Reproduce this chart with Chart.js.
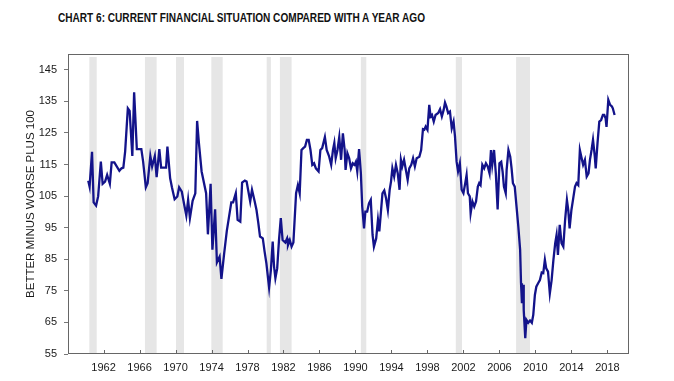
<!DOCTYPE html>
<html><head><meta charset="utf-8">
<script src="https://cdn.jsdelivr.net/npm/chart.js@4"></script>
<style>
html,body{margin:0;padding:0;background:#fff;}
#wrap{position:relative;width:674px;height:381px;overflow:hidden;}
#title{position:absolute;left:58px;top:10px;font-family:"Liberation Sans Narrow","Liberation Sans",Arial,sans-serif;font-weight:bold;font-size:13px;white-space:nowrap;transform-origin:0 0;color:#111;line-height:15px;}
canvas{position:absolute;left:0;top:0;}
</style></head><body>
<div id="wrap"><div id="title">CHART 6: CURRENT FINANCIAL SITUATION COMPARED WITH A YEAR AGO</div><canvas id="c" width="674" height="381"></canvas></div>
<script>
const dates = [
1960.3,1960.45,1960.72,1960.9,1961.17,1961.4,1961.7,1961.9,1962.17,1962.4,1962.7,1962.9,1963.2,1963.76,1964.0,1964.2,1964.4,1964.7,1964.9,1965.2,1965.4,1965.7,1966.2,1966.4,1966.7,1966.9,1967.2,1967.4,1967.7,1967.9,1968.2,1968.4,1968.95,1969.1,1969.4,1969.6,1969.9,1970.2,1970.4,1970.7,1970.95,1971.2,1971.4,1971.6,1971.9,1972.2,1972.4,1972.6,1972.9,1973.4,1973.6,1973.9,1974.1,1974.4,1974.6,1974.9,1975.1,1975.4,1975.7,1975.95,1976.2,1976.4,1976.7,1976.9,1977.2,1977.4,1977.7,1977.9,1978.3,1978.5,1978.8,1979.0,1979.2,
1979.39,1979.7,1979.9,1980.1,1980.4,1980.6,1980.8,1980.95,1981.1,1981.3,1981.5,1981.7,1981.9,1982.2,1982.4,1982.5,1982.7,1982.9,1983.1,1983.4,1983.6,1983.8,1984.0,1984.2,1984.4,1984.6,1984.8,1985.0,1985.2,1985.4,1985.6,1985.9,1986.1,1986.3,1986.6,1986.8,1987.06,1987.3,1987.5,1987.65,1987.8,1988.0,1988.2,1988.4,1988.6,1988.8,1988.9,1989.1,1989.3,1989.5,1989.7,1989.9,1990.05,1990.2,1990.4,1990.6,1990.75,1990.95,1991.1,1991.3,1991.5,1991.7,1991.9,1992.05,1992.3,1992.5,1992.65,1992.8,1993.0,1993.2,1993.4,1993.6,1993.8,1993.95,1994.1,1994.3,1994.5,1994.7,1994.9,1995.05,1995.2,1995.4,1995.6,1995.8,1995.98,1996.2,1996.4,1996.6,1996.8,1997.1,1997.3,1997.5,1997.65,1997.8,1998.0,1998.2,1998.35,1998.5,1998.7,1998.9,1999.2,1999.4,1999.6,1999.8,1999.95,2000.1,2000.3,
2000.5,2000.7,2000.9,2001.06,2001.24,2001.4,2001.6,2001.8,2002.0,2002.2,2002.35,2002.5,2002.7,2002.8,2003.0,2003.2,2003.4,2003.6,2003.75,2003.9,2004.1,2004.3,2004.5,2004.7,2004.9,2005.06,2005.2,2005.4,2005.6,2005.8,2006.0,2006.2,2006.35,2006.5,2006.7,2006.8,2007.0,2007.2,2007.35,2007.5,2007.7,2007.9,2008.1,2008.3,2008.4,2008.5,2008.65,2008.7,2008.87,2009.0,2009.2,2009.4,2009.6,2009.76,2009.94,2010.1,2010.3,2010.5,2010.7,2010.87,2011.05,2011.2,2011.4,2011.6,2011.8,2012.0,2012.2,2012.35,2012.5,2012.7,2012.9,2013.1,2013.3,2013.5,2013.65,2013.8,2014.0,2014.2,2014.4,2014.57,2014.76,2014.94,2015.1,2015.3,2015.5,2015.7,2015.9,2016.06,2016.24,2016.4,2016.6,2016.7,2016.9,2017.1,2017.3,2017.5,2017.65,2017.8,2017.9,2018.1,2018.3,2018.5,2018.6,2018.8
];
const values = [
109.9,108.0,119.0,103.0,102.0,104.9,115.9,108.9,109.6,111.7,108.9,115.7,115.7,113.0,113.8,114.0,119.1,132.8,132.0,117.7,137.9,119.9,119.9,115.9,107.8,109.1,117.7,114.4,117.7,111.0,119.9,114.0,114.0,120.7,110.7,107.8,104.0,104.9,107.8,106.4,102.5,98.8,103.8,98.0,103.5,105.9,128.8,121.8,112.8,105.9,92.9,108.9,88.0,100.8,84.0,85.8,78.8,86.7,94.0,98.5,103.0,103.0,105.9,97.5,96.9,109.3,109.9,109.6,103.3,107.0,103.3,100.6,96.5,
92.2,91.6,87.4,83.7,76.0,81.6,90.6,82.7,79.0,82.1,91.1,98.0,91.1,90.3,91.6,89.5,91.1,89.0,90.3,105.9,108.5,105.9,119.6,120.2,120.7,122.8,122.8,119.6,114.9,115.4,113.8,112.8,119.6,120.2,123.7,119.6,117.7,114.9,119.6,121.8,117.0,119.6,123.7,116.5,124.9,119.6,113.3,118.6,117.0,113.8,115.4,114.9,115.9,112.8,119.9,112.2,101.7,94.8,100.1,100.1,102.7,103.8,92.7,89.0,91.6,97.5,93.8,99.0,105.9,106.8,104.3,100.6,107.0,109.6,113.8,111.2,114.9,112.2,107.0,116.5,114.4,116.5,113.3,110.1,113.8,114.9,117.0,114.4,117.0,117.5,119.6,126.2,126.0,127.0,126.0,133.9,130.2,130.7,128.6,130.7,131.3,132.5,130.2,132.3,134.6,133.4,131.3,
131.8,126.5,128.6,123.9,115.9,112.8,115.4,107.0,105.9,109.1,111.7,105.9,104.9,99.6,103.3,101.7,103.3,108.0,109.1,108.5,114.9,113.8,115.4,114.4,112.2,119.6,114.9,119.6,112.2,100.8,115.4,115.9,112.8,108.0,105.9,113.3,119.6,117.5,113.8,109.1,108.0,101.7,95.3,88.0,77.4,71.1,76.9,68.9,60.0,65.8,64.9,65.6,64.9,67.4,73.7,76.3,77.4,78.4,80.8,80.6,84.8,82.1,81.1,74.2,78.4,84.8,90.1,92.7,86.4,95.9,90.1,89.0,97.5,103.8,100.6,94.8,100.6,104.3,108.0,109.1,108.5,119.6,117.5,114.9,116.5,111.2,112.2,116.5,119.6,122.8,117.5,113.8,121.8,128.6,129.1,130.7,130.7,129.6,126.9,135.5,133.9,133.4,132.8,130.7
];
const recessionStart = [1960.42, 1966.6, 1970.05, 1973.98, 1980.13, 1981.6, 1990.6, 2001.15, 2007.85];
const recessionEnd   = [1961.24, 1967.9, 1970.94, 1975.24, 1980.6, 1982.9, 1991.2, 2001.84, 2009.4];
const xTicks = [1962,1966,1970,1974,1978,1982,1986,1990,1994,1998,2002,2006,2010,2014,2018];
const yTicks = [55,65,75,85,95,105,115,125,135,145];
const yAxisTitle = 'BETTER MINUS WORSE PLUS 100';

const t = document.getElementById('title');
const w = t.getBoundingClientRect().width;
t.style.transform = 'scaleX(' + (367 / w) + ')';

const FONT = '"Liberation Sans", Arial, sans-serif';
const frame = {
  id: 'frame',
  beforeDatasetsDraw(chart) {
    const {ctx, chartArea: a, scales: {x}} = chart;
    ctx.save();
    ctx.fillStyle = '#e6e6e6';
    recessionStart.forEach((s, i) => {
      const x0 = x.getPixelForValue(s), x1 = x.getPixelForValue(recessionEnd[i]);
      ctx.fillRect(x0, a.top + 3, x1 - x0, a.bottom - a.top - 3);
    });
    ctx.restore();
  },
  afterDatasetsDraw(chart) {
    const {ctx, chartArea: a, scales: {x}} = chart;
    ctx.save();
    ctx.strokeStyle = '#666';
    ctx.lineWidth = 1;
    ctx.strokeRect(a.left + 0.5, a.top + 0.5, a.right - a.left - 1, a.bottom - a.top - 1);
    ctx.beginPath();
    x.ticks.forEach(tk => {
      const px = Math.round(x.getPixelForValue(tk.value)) + 0.5;
      ctx.moveTo(px, a.bottom);
      ctx.lineTo(px, a.bottom - 4);
    });
    ctx.stroke();
    ctx.restore();
  }
};

new Chart(document.getElementById('c'), {
  type: 'line',
  data: { datasets: [{
    data: dates.map((d, i) => ({x: d, y: values[i]})),
    borderColor: '#13138a', borderWidth: 2.3, pointRadius: 0, tension: 0, fill: false
  }]},
  options: {
    responsive: false, animation: false, devicePixelRatio: 1,
    layout: { padding: { top: 54, right: 45, left: 0, bottom: 0 } },
    plugins: { legend: { display: false }, tooltip: { enabled: false }, title: { display: false } },
    scales: {
      x: {
        type: 'linear', min: 1958.05, max: 2020.4,
        afterBuildTicks: s => { s.ticks = xTicks.map(v => ({value: v})); },
        afterFit: s => { s.height = 27; },
        grid: { display: false, drawTicks: false }, border: { display: false },
        ticks: { padding: 7, color: '#1a1a1a', autoSkip: false, maxRotation: 0, font: { family: FONT, size: 11 }, callback: v => String(v) }
      },
      y: {
        min: 55, max: 150,
        afterBuildTicks: s => { s.ticks = yTicks.map(v => ({value: v})); },
        afterFit: s => { s.width = 68; },
        grid: { drawOnChartArea: false, drawTicks: true, tickLength: 4, color: '#777' },
        border: { display: false },
        ticks: { padding: 7, color: '#1a1a1a', font: { family: FONT, size: 11 }, callback: v => String(v) },
        title: { display: true, text: yAxisTitle, color: '#1a1a1a', font: { family: FONT, size: 11.5 }, padding: { top: 24, bottom: 0 } }
      }
    }
  },
  plugins: [frame]
});
</script>
</body></html>
